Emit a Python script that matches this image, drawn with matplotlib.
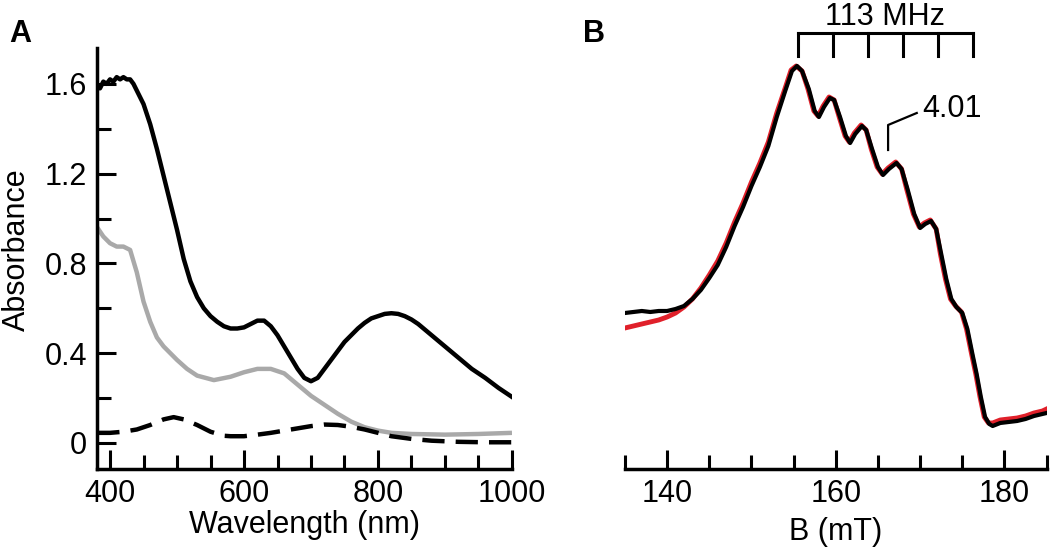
import matplotlib
matplotlib.use("Agg")
import matplotlib.pyplot as plt
from matplotlib.ticker import MultipleLocator, FuncFormatter

plt.rcParams['font.family'] = ['Liberation Sans', 'DejaVu Sans']
plt.rcParams['font.size'] = 22

# # Panel A: absorption spectra
wl_black = [381, 385, 390, 395, 400, 405, 410, 415, 420, 425, 430, 435, 440, 450, 460, 470,
            480, 490, 500, 510, 520, 530, 540, 550, 560, 570, 580, 590, 600, 610, 620,
            630, 640, 650, 660, 670, 680, 690, 700, 710, 720, 730, 740, 750, 760, 770,
            780, 790, 800, 810, 820, 830, 840, 850, 860, 870, 880, 890, 900, 920, 940,
            960, 980, 1000]
abs_black = [1.59, 1.58, 1.61, 1.60, 1.62, 1.61, 1.63, 1.62, 1.63, 1.62, 1.62, 1.60, 1.57,
             1.51, 1.42, 1.31, 1.19, 1.07, 0.95, 0.82, 0.72, 0.65, 0.60, 0.565, 0.54, 0.52,
             0.51, 0.51, 0.515, 0.53, 0.545, 0.545, 0.52, 0.48, 0.43, 0.38, 0.33, 0.29,
             0.275, 0.29, 0.33, 0.37, 0.41, 0.45, 0.48, 0.51, 0.535, 0.555, 0.565, 0.575,
             0.578, 0.575, 0.565, 0.55, 0.53, 0.505, 0.48, 0.455, 0.43, 0.38, 0.33, 0.29,
             0.245, 0.205]

wl_gray = [381, 390, 400, 410, 420, 430, 440, 450, 460, 470, 480, 490, 500, 515, 530,
           555, 580, 600, 620, 640, 660, 680, 700, 720, 740, 760, 780, 800, 820, 850,
           900, 950, 1000]
abs_gray = [0.96, 0.92, 0.89, 0.875, 0.875, 0.86, 0.76, 0.63, 0.54, 0.47, 0.43, 0.40,
            0.37, 0.33, 0.30, 0.28, 0.295, 0.315, 0.33, 0.33, 0.31, 0.26, 0.21, 0.17,
            0.13, 0.095, 0.07, 0.055, 0.045, 0.04, 0.037, 0.04, 0.045]

wl_dash = [381, 400, 420, 440, 460, 480, 495, 510, 530, 550, 570, 580, 600, 620, 640,
           660, 680, 700, 720, 740, 760, 780, 800, 820, 850, 880, 920, 960, 1000]
abs_dash = [0.045, 0.045, 0.05, 0.06, 0.08, 0.105, 0.115, 0.105, 0.08, 0.05, 0.032, 0.03,
            0.03, 0.037, 0.045, 0.055, 0.065, 0.075, 0.082, 0.08, 0.072, 0.06, 0.045,
            0.03, 0.018, 0.01, 0.005, 0.003, 0.003]

# # Panel B: EPR spectra (arbitrary units)
field_black = [135, 136, 137, 138, 139, 140, 141, 142, 143, 144, 145, 146, 147, 148, 149,
               150, 151, 152, 153, 154, 154.8, 155.4, 156, 156.8, 157.5, 158, 158.6,
               159.3, 159.8, 160.5, 161.2, 161.7, 162.3, 163.1, 163.6, 164.3, 165, 165.6,
               166.3, 167.2, 167.8, 168.5, 169.3, 170, 170.6, 171.3, 171.9, 172.5, 173.1,
               173.7, 174.3, 175, 175.6, 176.2, 176.7, 177.2, 177.7, 178.2, 178.6, 179.5,
               180.5, 181.5, 182.5, 183.5, 184.5, 185]
sig_black = [156, 157, 158, 157, 158, 158, 160, 163, 170, 179, 191, 204, 222, 243, 262,
             283, 302, 323, 352, 378, 398, 403, 398, 380, 358, 352, 362, 371, 369, 352,
             333, 326, 335, 343, 339, 320, 302, 294, 300, 306, 300, 280, 255, 241, 245,
             248, 240, 215, 190, 170, 162, 156, 140, 115, 95, 72, 52, 45, 43, 46, 47, 48,
             50, 53, 55, 56]

field_red = [135, 136, 137, 138, 139, 140, 141, 142, 143, 144, 145, 146, 147, 148, 149,
             150, 151, 152, 153, 154, 154.7, 155.3, 156, 156.7, 157.4, 157.9, 158.5,
             159.2, 159.8, 160.4, 161.1, 161.6, 162.2, 163.0, 163.6, 164.2, 164.9, 165.5,
             166.2, 167.1, 167.8, 168.4, 169.2, 169.9, 170.5, 171.2, 171.9, 172.4, 173.0,
             173.6, 174.2, 174.9, 175.5, 176.1, 176.6, 177.1, 177.6, 178.1, 178.6, 179.5,
             180.5, 181.5, 182.5, 183.5, 184.5, 185]
sig_red = [141, 143, 145, 147, 149, 152, 156, 162, 170, 181, 194, 208, 226, 247, 266,
           287, 306, 327, 356, 381, 399, 403, 398, 380, 358, 353, 363, 372, 369, 352,
           333, 327, 336, 344, 339, 320, 302, 295, 301, 307, 300, 280, 255, 242, 246,
           249, 240, 215, 190, 170, 163, 157, 140, 115, 95, 72, 52, 46, 46, 49, 50, 51,
           53, 56, 58, 60]

hfs_lines = [155.5, 159.65, 163.8, 167.95, 172.1, 176.25]

fig = plt.figure(figsize=(10.5, 5.5), dpi=100)

# ---- panel A
axA = fig.add_axes([0.0924, 0.1473, 0.3952, 0.7655])
axA.plot(wl_gray, abs_gray, color='#a9a9a9', lw=3.2, solid_capstyle='butt')
axA.plot(wl_dash, abs_dash, color='black', lw=3.2, linestyle=(0, (5, 2.5)))
axA.plot(wl_black, abs_black, color='black', lw=3.2)
axA.set_xlim(380.6, 1000)
axA.set_ylim(-0.116, 1.76)
axA.xaxis.set_major_locator(MultipleLocator(200))
axA.xaxis.set_minor_locator(MultipleLocator(50))
axA.yaxis.set_major_locator(MultipleLocator(0.4))
axA.yaxis.set_minor_locator(MultipleLocator(0.2))
axA.yaxis.set_major_formatter(FuncFormatter(lambda v, p: '0' if abs(v) < 1e-9 else f'{v:.1f}'))
for s in ['top', 'right']:
    axA.spines[s].set_visible(False)
for s in ['left', 'bottom']:
    axA.spines[s].set_linewidth(2.5)
axA.tick_params(which='major', direction='in', length=14, width=2.2, pad=7)
axA.tick_params(which='minor', direction='in', length=10, width=2.2)
axA.set_xlabel('Wavelength (nm)', labelpad=1)
axA.set_ylabel('Absorbance', fontsize=22)
axA.yaxis.set_label_coords(-0.158, 0.52)

# ---- panel B
axB = fig.add_axes([0.5952, 0.1473, 0.4016, 0.8527])
axB.plot(field_red, sig_red, color='#e0202a', lw=3.5)
axB.plot(field_black, sig_black, color='black', lw=3.0)
axB.set_xlim(135, 185)
axB.set_ylim(0, 469)
axB.xaxis.set_major_locator(MultipleLocator(20))
axB.xaxis.set_minor_locator(MultipleLocator(5))
axB.set_yticks([])
for s in ['top', 'right', 'left']:
    axB.spines[s].set_visible(False)
axB.spines['bottom'].set_linewidth(2.5)
axB.tick_params(which='major', direction='in', length=14, width=2.2, pad=7)
axB.tick_params(which='minor', direction='in', length=10, width=2.2)
axB.set_xlabel('B (mT)', labelpad=6)

# hyperfine bracket
axB.plot([hfs_lines[0], hfs_lines[-1]], [436, 436], color='black', lw=2.2, clip_on=False)
for h in hfs_lines:
    axB.plot([h, h], [436, 413], color='black', lw=2.2, clip_on=False)
axB.text((hfs_lines[0] + hfs_lines[-1]) / 2, 444, '113 MHz', ha='center', va='baseline')

# g-value marker
axB.plot([169.6, 166.2, 166.2], [356, 344, 319], color='black', lw=1.6)
axB.text(170.3, 352, '4.01', ha='left', va='baseline')

fig.text(0.009, 1 - 42 / 550, 'A', fontsize=22, fontweight='bold', va='baseline')
fig.text(583 / 1050, 1 - 42 / 550, 'B', fontsize=22, fontweight='bold', va='baseline')

fig.savefig('out.png', dpi=100)
